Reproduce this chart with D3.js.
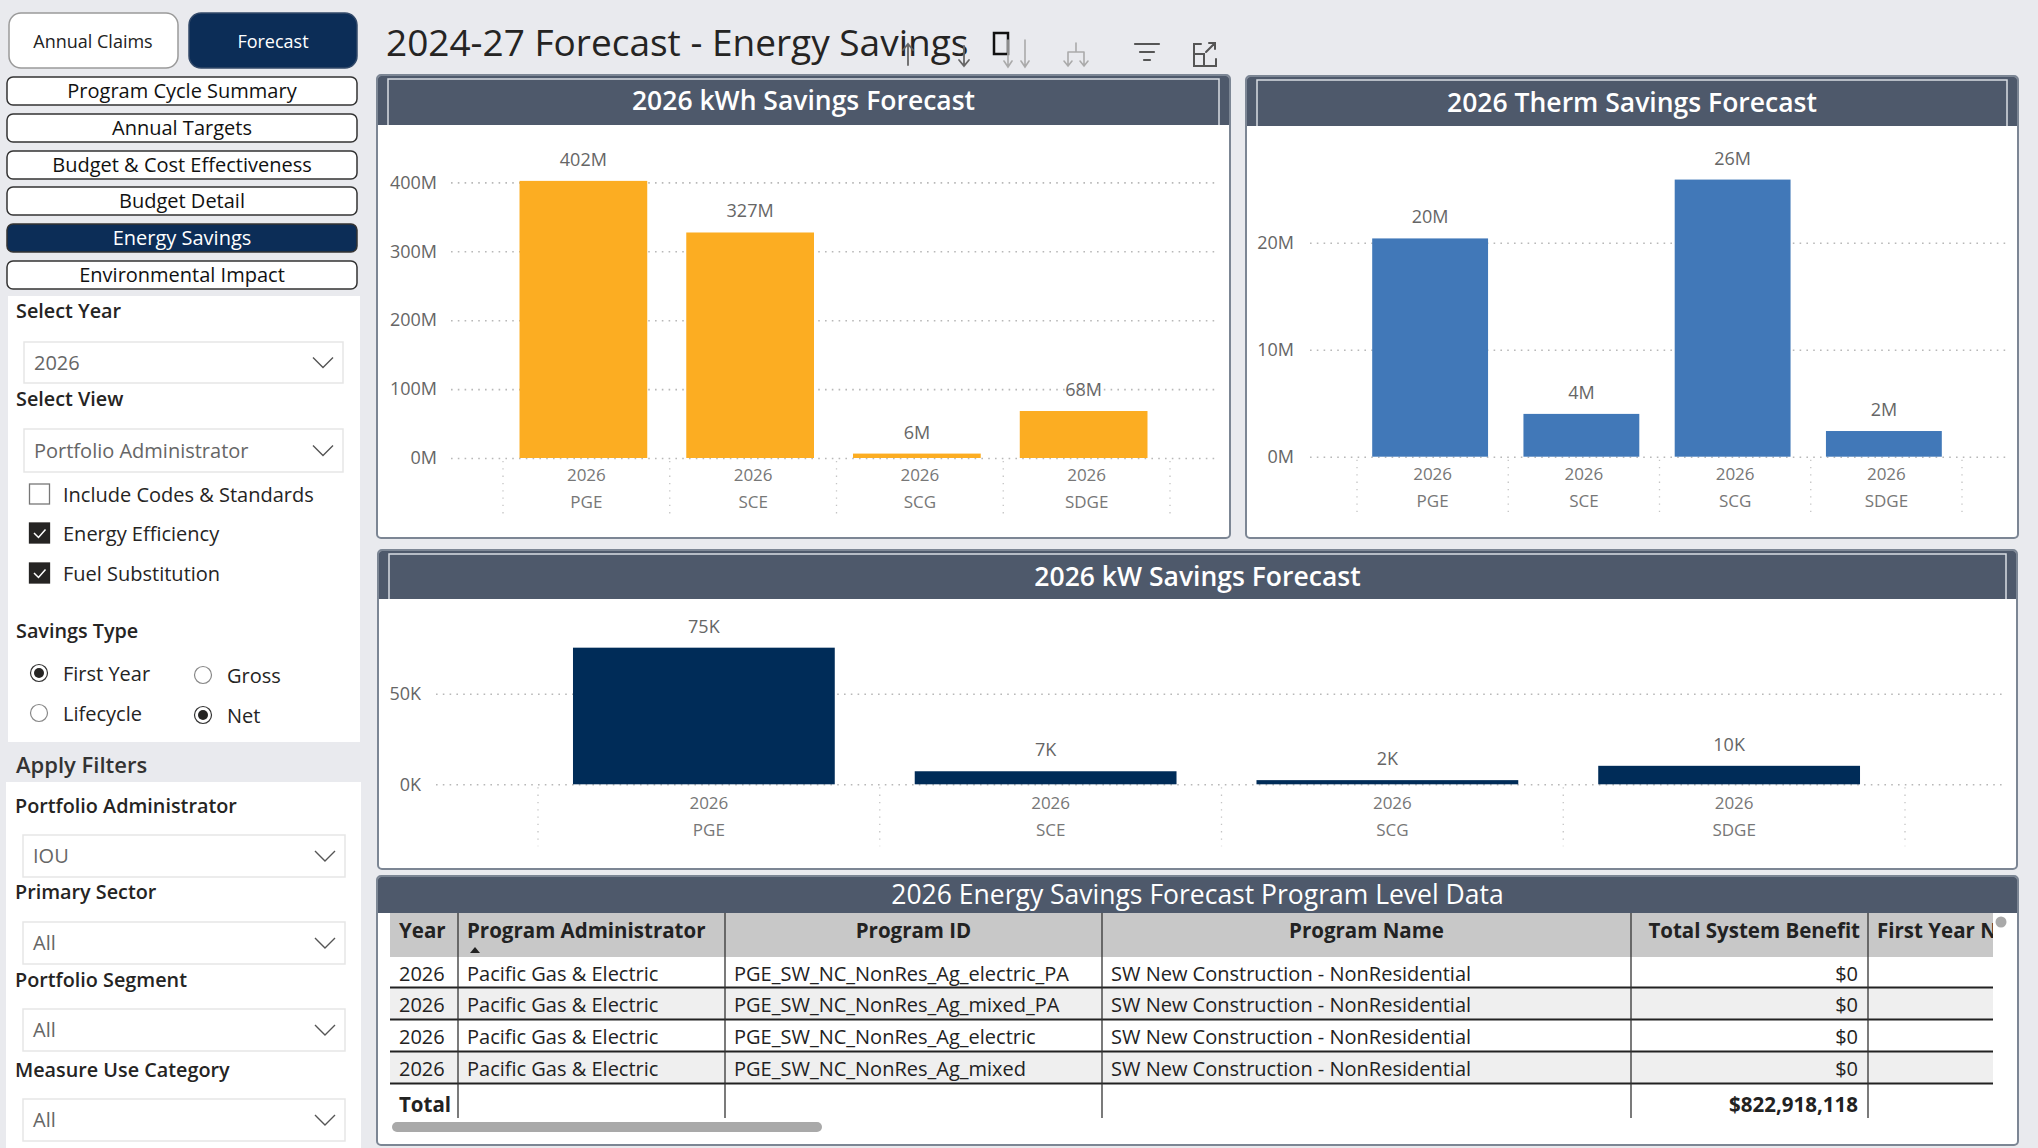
<!DOCTYPE html>
<html>
<head>
<meta charset="utf-8">
<script src="https://cdn.jsdelivr.net/npm/d3@7"></script>
<style>
  body { margin: 0; background: #e9eaee; }
  svg { display: block; font-family: "Open Sans", "Noto Sans", sans-serif; }
</style>
</head>
<body>
<script>
// chart values
var utilities = ["PGE", "SCE", "SCG", "SDGE"];
var yearLabel = "2026";
var kwhSavings = [402.2e6, 327.3e6, 6.4e6, 68.2e6];
var thermSavings = [20.4e6, 4.0e6, 25.9e6, 2.4e6];
var kwSavings = [75.4e3, 7.2e3, 2.3e3, 10.2e3];
var kwhTicks = [0, 100e6, 200e6, 300e6, 400e6];
var thermTicks = [0, 10e6, 20e6];
var kwTicks = [0, 50e3];

// table values
var tableColumns = ["Year", "Program Administrator", "Program ID", "Program Name", "Total System Benefit", "First Year Net"];
var tableYears = ["2026", "2026", "2026", "2026"];
var tableAdmins = ["Pacific Gas & Electric", "Pacific Gas & Electric", "Pacific Gas & Electric", "Pacific Gas & Electric"];
var tableIds = ["PGE_SW_NC_NonRes_Ag_electric_PA", "PGE_SW_NC_NonRes_Ag_mixed_PA", "PGE_SW_NC_NonRes_Ag_electric", "PGE_SW_NC_NonRes_Ag_mixed"];
var tableNames = ["SW New Construction - NonResidential", "SW New Construction - NonResidential", "SW New Construction - NonResidential", "SW New Construction - NonResidential"];
var tableBenefit = ["$0", "$0", "$0", "$0"];
var tableTotal = "$822,918,118";

// side panel texts
var navButtons = ["Program Cycle Summary", "Annual Targets", "Budget & Cost Effectiveness", "Budget Detail", "Energy Savings", "Environmental Impact"];
var filterLabels = ["Portfolio Administrator", "Primary Sector", "Portfolio Segment", "Measure Use Category"];
var filterValues = ["IOU", "All", "All", "All"];

var W = 2038, H = 1148;
var svg = d3.select("body").append("svg").attr("width", W).attr("height", H);
svg.append("rect").attr("width", W).attr("height", H).attr("fill", "#e9eaee");

var navy = "#0c2d57";

// ---------- top buttons ----------
svg.append("rect").attr("x", 9).attr("y", 13).attr("width", 169).attr("height", 55).attr("rx", 12)
  .attr("fill", "#fff").attr("stroke", "#9a9a9a").attr("stroke-width", 1.5);
svg.append("text").attr("x", 93).attr("y", 48).attr("text-anchor", "middle")
  .attr("font-size", 18).attr("fill", "#222").text("Annual Claims");
svg.append("rect").attr("x", 189).attr("y", 13).attr("width", 168).attr("height", 55).attr("rx", 12)
  .attr("fill", navy).attr("stroke", "#334a6a").attr("stroke-width", 1.5);
svg.append("text").attr("x", 273).attr("y", 48).attr("text-anchor", "middle")
  .attr("font-size", 18).attr("fill", "#fff").text("Forecast");

// nav buttons
var navY = [77, 114, 151, 187, 224, 261];
navButtons.forEach(function(t, i) {
  var active = t === "Energy Savings";
  svg.append("rect").attr("x", 7).attr("y", navY[i]).attr("width", 350).attr("height", 28).attr("rx", 6)
    .attr("fill", active ? navy : "#fff").attr("stroke", "#333").attr("stroke-width", 1.5);
  svg.append("text").attr("x", 182).attr("y", navY[i] + 21).attr("text-anchor", "middle")
    .attr("font-size", 20).attr("fill", active ? "#fff" : "#111").text(t);
});

// ---------- title + icons ----------
svg.append("text").attr("x", 386).attr("y", 56).attr("font-size", 37).attr("fill", "#252423").text("2024-27 Forecast - Energy Savings");
var icons = svg.append("g").attr("fill", "none").attr("stroke-linecap", "round");
icons.append("rect").attr("x", 994).attr("y", 33).attr("width", 14).attr("height", 21).attr("stroke", "#111").attr("stroke-width", 2.5);
icons.append("path").attr("d", "M908,65 V44 M903,50 L908,44 L913,50").attr("stroke", "#666").attr("stroke-width", 1.8);
icons.append("path").attr("d", "M964,46 V66 M959,60 L964,66 L969,60").attr("stroke", "#666").attr("stroke-width", 1.8);
icons.append("path").attr("d", "M1008,40 V67 M1004,61 L1008,67 L1012,61 M1025,40 V67 M1021,61 L1025,67 L1029,61").attr("stroke", "#aaa").attr("stroke-width", 1.6);
icons.append("path").attr("d", "M1076,43 V52 M1068,52 H1084 M1068,52 V66 M1084,52 V66 M1064,61 L1068,66 L1072,61 M1080,61 L1084,66 L1088,61").attr("stroke", "#aaa").attr("stroke-width", 1.6);
icons.append("path").attr("d", "M1135,44 H1159 M1140,52 H1154 M1144,60 H1150").attr("stroke", "#555").attr("stroke-width", 2.2);
icons.append("path").attr("d", "M1201,44 H1194 V66 H1216 V59 M1194,54 H1204 V66 M1206,52 L1215,43 M1209,43 H1215 V49").attr("stroke", "#555").attr("stroke-width", 2);

// ---------- left slicer panel ----------
svg.append("rect").attr("x", 8).attr("y", 296).attr("width", 352).attr("height", 446).attr("fill", "#fff");
function label(x, y, t, size) {
  svg.append("text").attr("x", x).attr("y", y).attr("font-size", size || 19.8).attr("font-weight", 600)
    .attr("fill", "#252423").text(t);
}
function dropdown(x, y, w, h, t) {
  svg.append("rect").attr("x", x).attr("y", y).attr("width", w).attr("height", h)
    .attr("fill", "#fff").attr("stroke", "#e6e6e6").attr("stroke-width", 1.5);
  svg.append("text").attr("x", x + 10).attr("y", y + h / 2 + 7).attr("font-size", 20).attr("fill", "#666").text(t);
  var cx = x + w - 20, cy = y + h / 2;
  svg.append("path").attr("d", "M" + (cx - 10) + "," + (cy - 5) + " L" + cx + "," + (cy + 5) + " L" + (cx + 10) + "," + (cy - 5))
    .attr("fill", "none").attr("stroke", "#555").attr("stroke-width", 1.4);
}
label(16, 318, "Select Year");
dropdown(24, 342, 319, 41, "2026");
label(16, 406, "Select View");
dropdown(24, 429, 319, 43, "Portfolio Administrator");

var checks = [["Include Codes & Standards", false, 484], ["Energy Efficiency", true, 523], ["Fuel Substitution", true, 563]];
checks.forEach(function(c) {
  svg.append("rect").attr("x", 29.5).attr("y", c[2]).attr("width", 20).attr("height", 20)
    .attr("fill", c[1] ? "#252423" : "#fff").attr("stroke", c[1] ? "#252423" : "#777").attr("stroke-width", 1.3);
  if (c[1]) {
    svg.append("path").attr("d", "M34," + (c[2] + 10) + " L38.5," + (c[2] + 14.5) + " L45.5," + (c[2] + 6.5))
      .attr("fill", "none").attr("stroke", "#fff").attr("stroke-width", 1.5);
  }
  svg.append("text").attr("x", 63).attr("y", c[2] + 18).attr("font-size", 20).attr("fill", "#252423").text(c[0]);
});

label(16, 638, "Savings Type");
var radios = [["First Year", true, 39, 673], ["Gross", false, 203, 675], ["Lifecycle", false, 39, 713], ["Net", true, 203, 715]];
radios.forEach(function(r) {
  svg.append("circle").attr("cx", r[2]).attr("cy", r[3]).attr("r", 8.5).attr("fill", "#fff")
    .attr("stroke", r[1] ? "#333" : "#888").attr("stroke-width", 1.2);
  if (r[1]) svg.append("circle").attr("cx", r[2]).attr("cy", r[3]).attr("r", 5).attr("fill", "#252423");
  svg.append("text").attr("x", r[2] + 24).attr("y", r[3] + 8).attr("font-size", 20).attr("fill", "#252423").text(r[0]);
});

svg.append("text").attr("x", 16).attr("y", 773).attr("font-size", 22).attr("font-weight", 600).attr("fill", "#333").text("Apply Filters");
svg.append("rect").attr("x", 6).attr("y", 782).attr("width", 355).attr("height", 366).attr("fill", "#fff");
var fLabelY = [813, 899, 987, 1077];
var fBoxY = [835, 922, 1009, 1099];
filterLabels.forEach(function(t, i) {
  label(15, fLabelY[i], t);
  dropdown(23, fBoxY[i], 322, 42, filterValues[i]);
});

// ---------- panels ----------
function panel(x, y, w, h, headH, title, titleY, opts) {
  opts = opts || {};
  var g = svg.append("g");
  g.append("rect").attr("x", x).attr("y", y).attr("width", w).attr("height", h).attr("rx", 4)
    .attr("fill", "#fff").attr("stroke", "#7c8694").attr("stroke-width", 2);
  g.append("path").attr("d", "M" + (x + 1) + "," + (y + headH) + " V" + (y + 4) + " Q" + (x + 1) + "," + (y + 1) + " " + (x + 4) + "," + (y + 1) +
      " H" + (x + w - 4) + " Q" + (x + w - 1) + "," + (y + 1) + " " + (x + w - 1) + "," + (y + 4) + " V" + (y + headH) + " Z")
    .attr("fill", "#4e596b");
  if (opts.inset) {
    g.append("path").attr("d", "M" + (x + 11) + "," + (y + headH) + " V" + (y + 4) + " H" + (x + w - 11) + " V" + (y + headH))
      .attr("fill", "none").attr("stroke", "#d9dde3").attr("stroke-width", 1.5);
  }
  g.append("text").attr("x", x + w / 2).attr("y", titleY).attr("text-anchor", "middle")
    .attr("font-size", opts.size || 26.5).attr("font-weight", opts.weight || 600).attr("fill", "#fff").text(title);
  return g;
}

var fmtM = function(d) { return Math.round(d / 1e6) + "M"; };
var fmtK = function(d) { return Math.round(d / 1e3) + "K"; };

function barChart(cfg) {
  var g = svg.append("g");
  var x = d3.scaleBand().domain(utilities).range(cfg.xRange).paddingInner(0.234).paddingOuter(0.117);
  var y = d3.scaleLinear().domain([0, cfg.ticks[cfg.ticks.length - 1]]).range(cfg.yRange);
  var shift = cfg.barShift || 0;

  // gridlines + y labels
  var yAxis = d3.axisLeft(y).tickValues(cfg.ticks).tickFormat(cfg.fmt)
    .tickSize(-(cfg.gridRange[1] - cfg.gridRange[0])).tickPadding(cfg.gridRange[0] - cfg.labelRight);
  var ya = g.append("g").attr("transform", "translate(" + cfg.gridRange[0] + ",0)").call(yAxis);
  ya.select(".domain").remove();
  ya.selectAll("line").attr("stroke", "#b8b8b8").attr("stroke-width", 1.6).attr("stroke-dasharray", "1.6,5.2");
  ya.selectAll("text").attr("fill", "#666").attr("font-size", 18).attr("font-family", "Open Sans, sans-serif");

  // category separators
  var step = x.step();
  var seps = utilities.map(function(u) { return x(u) - (step - x.bandwidth()) / 2; });
  seps.push(cfg.xRange[1]);
  g.selectAll(".sep").data(seps).enter().append("line")
    .attr("x1", function(d) { return d; }).attr("x2", function(d) { return d; })
    .attr("y1", cfg.yRange[0] + 3).attr("y2", cfg.yRange[0] + cfg.sepLen)
    .attr("stroke", "#c4c4c4").attr("stroke-width", 1.3).attr("stroke-dasharray", "1.3,6");

  // bars
  g.selectAll(".bar").data(cfg.values).enter().append("rect")
    .attr("x", function(d, i) { return x(utilities[i]) + shift; })
    .attr("width", x.bandwidth())
    .attr("y", function(d) { return y(d); })
    .attr("height", function(d) { return y(0) - y(d); })
    .attr("fill", cfg.color);

  // data labels
  g.selectAll(".dl").data(cfg.values).enter().append("text")
    .attr("x", function(d, i) { return x(utilities[i]) + shift + x.bandwidth() / 2; })
    .attr("y", function(d) { return y(d) - 15; })
    .attr("text-anchor", "middle").attr("font-size", 18).attr("fill", "#666")
    .text(cfg.fmt);

  // category labels (year + utility)
  g.selectAll(".yr").data(utilities).enter().append("text")
    .attr("x", function(d) { return x(d) + x.bandwidth() / 2; })
    .attr("y", cfg.yRange[0] + cfg.yearDy)
    .attr("text-anchor", "middle").attr("font-size", 17).attr("fill", "#777").text(yearLabel);
  g.selectAll(".ut").data(utilities).enter().append("text")
    .attr("x", function(d) { return x(d) + x.bandwidth() / 2; })
    .attr("y", cfg.yRange[0] + cfg.yearDy + 27)
    .attr("text-anchor", "middle").attr("font-size", 17).attr("fill", "#777").text(function(d) { return d; });
}

// kWh
panel(377, 75, 853, 463, 50, "2026 kWh Savings Forecast", 110, { inset: true });
barChart({
  values: kwhSavings, ticks: kwhTicks, fmt: fmtM, color: "#fcad22",
  xRange: [503, 1170], yRange: [458, 182.4], gridRange: [451, 1215], labelRight: 437,
  sepLen: 60, yearDy: 23, barShift: -3
});

// Therm
panel(1246, 76, 772, 462, 50, "2026 Therm Savings Forecast", 112, { inset: true });
barChart({
  values: thermSavings, ticks: thermTicks, fmt: fmtM, color: "#4178b8",
  xRange: [1357, 1962], yRange: [456.7, 242.7], gridRange: [1310, 2006], labelRight: 1294,
  sepLen: 60, yearDy: 23, barShift: -2.5
});

// kW
panel(378, 550, 1639, 319, 49, "2026 kW Savings Forecast", 586, { inset: true });
barChart({
  values: kwSavings, ticks: kwTicks, fmt: fmtK, color: "#002c58",
  xRange: [538, 1905], yRange: [784.3, 693.7], gridRange: [436, 2005], labelRight: 421,
  sepLen: 62, yearDy: 25, barShift: -5
});

// ---------- table ----------
panel(377, 876, 1641, 269, 37, "2026 Energy Savings Forecast Program Level Data", 904, { size: 26.5, weight: 400 });
var colX = [390, 458, 725, 1102, 1631, 1868, 1993];
var tg = svg.append("g");
svg.append("defs").append("clipPath").attr("id", "tclip").append("rect")
  .attr("x", 390).attr("y", 905).attr("width", 1603).attr("height", 230);
tg.attr("clip-path", "url(#tclip)");
tg.append("rect").attr("x", 390).attr("y", 913).attr("width", 1610).attr("height", 44).attr("fill", "#c8c8c8");
var rowY = [957, 987.5, 1019.5, 1051.5];
rowY.forEach(function(y0, i) {
  tg.append("rect").attr("x", 390).attr("y", y0).attr("width", 1610).attr("height", 32)
    .attr("fill", i % 2 ? "#efefef" : "#fff");
});
// header texts
var hdrAnchor = ["start", "start", "middle", "middle", "end", "start"];
tableColumns.forEach(function(c, i) {
  var xx = hdrAnchor[i] === "start" ? colX[i] + 9 : hdrAnchor[i] === "end" ? colX[i + 1] - 8 : (colX[i] + colX[i + 1]) / 2;
  tg.append("text").attr("x", xx).attr("y", 938).attr("text-anchor", hdrAnchor[i])
    .attr("font-size", 20.5).attr("font-weight", 700).attr("fill", "#222").text(c);
});
tg.append("path").attr("d", "M470,953 L475,947 L480,953 Z").attr("fill", "#222");
// rows
var cellRows = tableYears.map(function(y, i) { return [y, tableAdmins[i], tableIds[i], tableNames[i], tableBenefit[i], ""]; });
cellRows.forEach(function(r, ri) {
  r.forEach(function(v, ci) {
    var end = ci === 4;
    tg.append("text").attr("x", end ? colX[ci + 1] - 10 : colX[ci] + 9).attr("y", rowY[ri] + 24)
      .attr("text-anchor", end ? "end" : "start").attr("font-size", 20).attr("fill", "#222").text(v);
  });
});
tg.append("text").attr("x", 399).attr("y", 1112).attr("font-size", 20.5).attr("font-weight", 700).attr("fill", "#222").text("Total");
tg.append("text").attr("x", colX[5] - 10).attr("y", 1112).attr("text-anchor", "end")
  .attr("font-size", 20.5).attr("font-weight", 700).attr("fill", "#222").text(tableTotal);
// row rules
[987.5, 1019.5, 1051.5, 1083.5].forEach(function(y) {
  tg.append("line").attr("x1", 390).attr("x2", 1993).attr("y1", y).attr("y2", y).attr("stroke", "#222").attr("stroke-width", 2);
});
// column rules
colX.slice(1, 6).forEach(function(x) {
  tg.append("line").attr("x1", x).attr("x2", x).attr("y1", 913).attr("y2", 1118).attr("stroke", "#333").attr("stroke-width", 1.3);
});
// scrollbars
svg.append("rect").attr("x", 392).attr("y", 1122).attr("width", 430).attr("height", 10).attr("rx", 5).attr("fill", "#a9a9a9");
svg.append("circle").attr("cx", 2001).attr("cy", 922).attr("r", 5.5).attr("fill", "#a9a9a9");
</script>
</body>
</html>
